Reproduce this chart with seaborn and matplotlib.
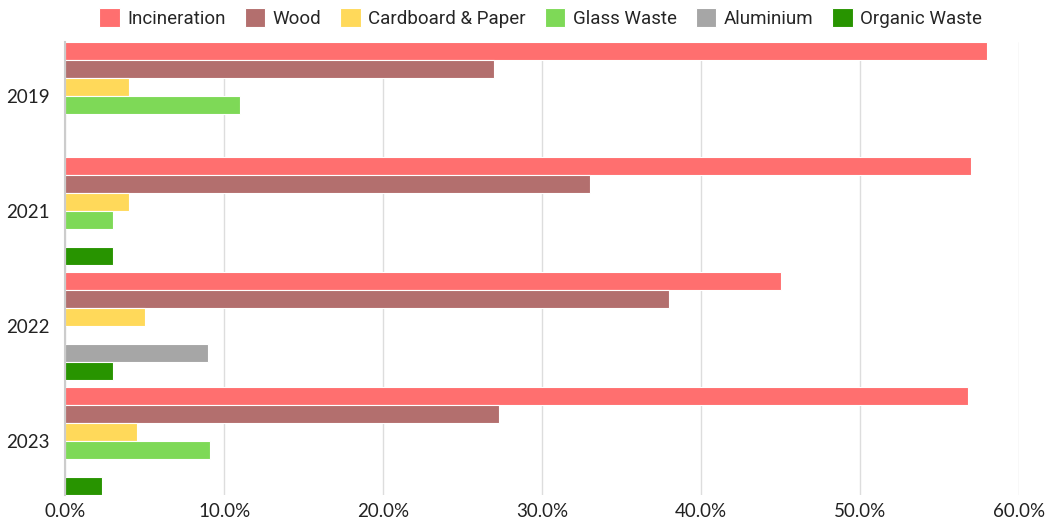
import numpy as np
import pandas as pd
import matplotlib
matplotlib.use("Agg")
import matplotlib.pyplot as plt
from matplotlib.ticker import FuncFormatter
import seaborn as sns

anios = ["2019", "2021", "2022", "2023"]
categorias = ["Incineration", "Wood", "Cardboard & Paper", "Glass Waste", "Aluminium", "Organic Waste"]
colores = ["#FF6F6F", "#B36F6E", "#FFD95A", "#7ED957", "#A6A6A6", "#289400"]

incineracion = [58.0, 57.0, 45.0, 56.8]
madera = [27.0, 33.0, 38.0, 27.3]
carton = [4.0, 4.0, 5.0, 4.5]
vidrio = [11.0, 3.0, 0.0, 9.1]
aluminio = [0.0, 0.0, 9.0, 0.0]
organico = [0.0, 3.0, 3.0, 2.3]

series = [incineracion, madera, carton, vidrio, aluminio, organico]
filas = []
for cat, valores in zip(categorias, series):
    for anio, v in zip(anios, valores):
        filas.append({"anio": anio, "categoria": cat, "valor": v})
df = pd.DataFrame(filas)

sns.set_style("white")
plt.rcParams['font.family'] = ['Lato', 'DejaVu Sans']

fig = plt.figure(figsize=(10.5, 5.25), dpi=100)
ax = fig.add_axes([0.062, 0.057, 0.9086, 0.863])

ancho = 0.94
sns.barplot(data=df, x="valor", y="anio", hue="categoria", order=anios,
            hue_order=categorias, palette=colores, saturation=1, orient="h", width=ancho,
            edgecolor="white", linewidth=0.8, ax=ax, legend=True)

ax.set_xlim(0, 60)
ax.set_ylim(3 + ancho / 2, -ancho / 2)
ax.set_xticks(np.arange(0, 61, 10))
ax.xaxis.set_major_formatter(FuncFormatter(lambda v, p: f"{v:.1f}%"))
ax.grid(axis="x", color="#DDDDDD", linewidth=1)
ax.set_axisbelow(True)
ax.set_xlabel("")
ax.set_ylabel("")
for s in ["top", "right", "bottom"]:
    ax.spines[s].set_visible(False)
ax.spines["left"].set_color("#CCCCCC")
ax.spines["left"].set_linewidth(1.5)
ax.tick_params(axis="both", length=0, labelsize=13.5, colors="#222222", pad=6)
ax.tick_params(axis="y", pad=11)

handles, labels = ax.get_legend_handles_labels()
ax.legend_.remove()
fig.legend(handles, labels, loc="center", bbox_to_anchor=(0.515, 0.966), ncol=6,
           frameon=False, handlelength=1.1, handleheight=1.2, handletextpad=0.4,
           columnspacing=1.0, prop={"family": ["Roboto", "DejaVu Sans"], "size": 13.5})

fig.savefig("out.png", dpi=100)
